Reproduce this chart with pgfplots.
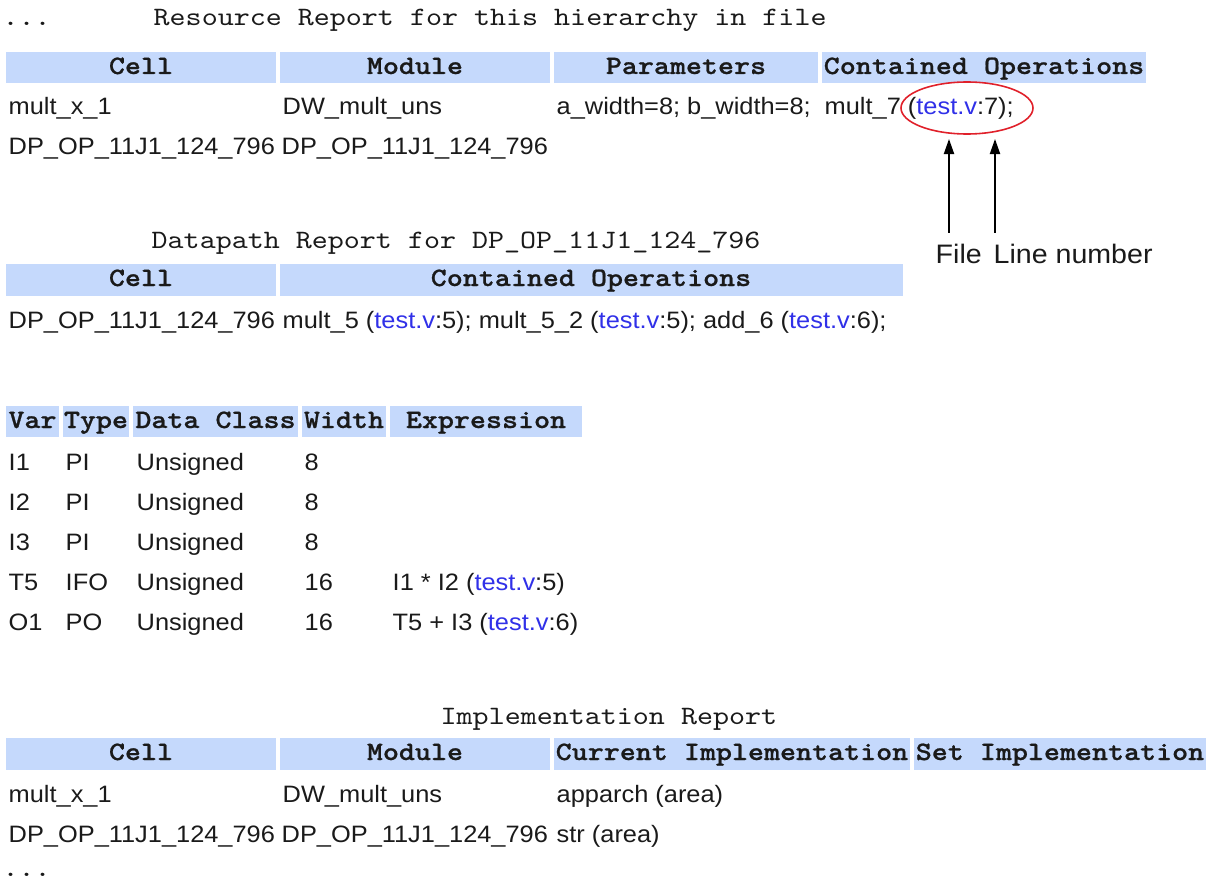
\documentclass[border=0pt]{standalone}
\usepackage{fontspec}
\setmainfont{Liberation Sans}[FakeStretch=1.07]
\setmonofont{lmmono10-regular.otf}[BoldFont=lmmonolt10-bold.otf, BoldFeatures={FakeBold=0.8}, FakeStretch=1.15]
\usepackage{pgfplots}
\pgfplotsset{compat=1.18}
\usetikzlibrary{arrows.meta}
\definecolor{hdr}{HTML}{C5D9FC}
\definecolor{lnk}{HTML}{3030E8}
\definecolor{txt}{HTML}{1A1A1A}
\definecolor{ell}{HTML}{E0202A}
\newcommand\bt{\fontsize{6.75}{8}\selectfont}
\newcommand\hd{\ttfamily\bfseries\fontsize{7.55}{9}\selectfont}
\newcommand\ti{\ttfamily\fontsize{7.55}{9}\selectfont}
\newcommand\lk[1]{(\textcolor{lnk}{test.v}:#1)}
\tikzset{L/.style={anchor=base west, inner sep=0, text=txt}, C/.style={anchor=base, inner sep=0, text=txt}}
\begin{document}
\begin{tikzpicture}
\begin{axis}[scale only axis, width=12.2cm, height=8.77cm,
  xmin=0, xmax=1220, ymin=0, ymax=877, y dir=reverse,
  hide axis, clip=false]
\addplot[draw=none] coordinates {(0,0) (1220,877)};
% ---- header boxes
\fill[hdr] (axis cs:6,52) rectangle (axis cs:276,83);
\fill[hdr] (axis cs:280,52) rectangle (axis cs:550,83);
\fill[hdr] (axis cs:554,52) rectangle (axis cs:818,83);
\fill[hdr] (axis cs:822,52) rectangle (axis cs:1146,83);
\fill[hdr] (axis cs:6,264) rectangle (axis cs:276,296);
\fill[hdr] (axis cs:280,264) rectangle (axis cs:903,296);
\fill[hdr] (axis cs:6,406) rectangle (axis cs:59,437);
\fill[hdr] (axis cs:63,406) rectangle (axis cs:129,437);
\fill[hdr] (axis cs:133,406) rectangle (axis cs:298,437);
\fill[hdr] (axis cs:302,406) rectangle (axis cs:386,437);
\fill[hdr] (axis cs:390,406) rectangle (axis cs:582,437);
\fill[hdr] (axis cs:6,738) rectangle (axis cs:276,770);
\fill[hdr] (axis cs:280,738) rectangle (axis cs:550,770);
\fill[hdr] (axis cs:554,738) rectangle (axis cs:910,770);
\fill[hdr] (axis cs:914,738) rectangle (axis cs:1206,770);
% ---- titles
\node[L] at (axis cs:2,26) {\ti ...};
\node[L] at (axis cs:153,26) {\ti Resource Report for this hierarchy in file};
\node[L] at (axis cs:151,249) {\ti Datapath Report for DP\_OP\_11J1\_124\_796};
\node[L] at (axis cs:440,724) {\ti Implementation Report};
\node[L] at (axis cs:2,876) {\ti ...};
% ---- table 1 header
\node[C] at (axis cs:141,74) {\hd Cell};
\node[C] at (axis cs:415,74) {\hd Module};
\node[C] at (axis cs:686,74) {\hd Parameters};
\node[C] at (axis cs:984,74) {\hd Contained Operations};
% ---- table 1 rows
\node[L] at (axis cs:8,115) {\bt mult\_x\_1};
\node[L] at (axis cs:282,115) {\bt DW\_mult\_uns};
\node[L] at (axis cs:556,115) {\bt a\_width=8; b\_width=8;};
\node[L] at (axis cs:824,115) {\bt mult\_7 \lk{7};};
\node[L] at (axis cs:8,155) {\bt DP\_OP\_11J1\_124\_796};
\node[L] at (axis cs:281,155) {\bt DP\_OP\_11J1\_124\_796};
% ---- annotation
\draw[ell, line width=0.45pt] (axis cs:967,108) ellipse [x radius=0.66cm, y radius=0.26cm];
\draw[line width=0.45pt, -{Triangle[length=4.3pt,width=2.9pt]}] (axis cs:949,233) -- (axis cs:949,139);
\draw[line width=0.45pt, -{Triangle[length=4.3pt,width=2.9pt]}] (axis cs:995,233) -- (axis cs:995,139);
\node[L] at (axis cs:935,263) {\fontsize{7.6}{9}\selectfont File};
\node[L] at (axis cs:993,263) {\fontsize{7.6}{9}\selectfont Line number};
% ---- table 2
\node[C] at (axis cs:141,286) {\hd Cell};
\node[C] at (axis cs:591,286) {\hd Contained Operations};
\node[L] at (axis cs:8,328) {\bt DP\_OP\_11J1\_124\_796};
\node[L] at (axis cs:282,328) {\bt mult\_5 \lk{5}; mult\_5\_2 \lk{5}; add\_6 \lk{6};};
% ---- table 3
\node[C] at (axis cs:32.5,428) {\hd Var};
\node[C] at (axis cs:96,428) {\hd Type};
\node[C] at (axis cs:215.5,428) {\hd Data Class};
\node[C] at (axis cs:344,428) {\hd Width};
\node[C] at (axis cs:486,428) {\hd Expression};
\node[L] at (axis cs:8,470) {\bt I1};
\node[L] at (axis cs:65,470) {\bt PI};
\node[L] at (axis cs:136,470) {\bt Unsigned};
\node[L] at (axis cs:304,470) {\bt 8};
\node[L] at (axis cs:8,510) {\bt I2};
\node[L] at (axis cs:65,510) {\bt PI};
\node[L] at (axis cs:136,510) {\bt Unsigned};
\node[L] at (axis cs:304,510) {\bt 8};
\node[L] at (axis cs:8,550) {\bt I3};
\node[L] at (axis cs:65,550) {\bt PI};
\node[L] at (axis cs:136,550) {\bt Unsigned};
\node[L] at (axis cs:304,550) {\bt 8};
\node[L] at (axis cs:8,590) {\bt T5};
\node[L] at (axis cs:65,590) {\bt IFO};
\node[L] at (axis cs:136,590) {\bt Unsigned};
\node[L] at (axis cs:304,590) {\bt 16};
\node[L] at (axis cs:392,590) {\bt I1 * I2 \lk{5}};
\node[L] at (axis cs:8,630) {\bt O1};
\node[L] at (axis cs:65,630) {\bt PO};
\node[L] at (axis cs:136,630) {\bt Unsigned};
\node[L] at (axis cs:304,630) {\bt 16};
\node[L] at (axis cs:392,630) {\bt T5 + I3 \lk{6}};
% ---- table 4
\node[C] at (axis cs:141,760) {\hd Cell};
\node[C] at (axis cs:415,760) {\hd Module};
\node[C] at (axis cs:732,760) {\hd Current Implementation};
\node[C] at (axis cs:1060,760) {\hd Set Implementation};
\node[L] at (axis cs:8,802) {\bt mult\_x\_1};
\node[L] at (axis cs:282,802) {\bt DW\_mult\_uns};
\node[L] at (axis cs:556,802) {\bt apparch (area)};
\node[L] at (axis cs:8,842) {\bt DP\_OP\_11J1\_124\_796};
\node[L] at (axis cs:281,842) {\bt DP\_OP\_11J1\_124\_796};
\node[L] at (axis cs:556,842) {\bt str (area)};
\end{axis}
\pgfresetboundingbox
\path (current axis.south west) rectangle (current axis.north east);
\end{tikzpicture}
\end{document}
